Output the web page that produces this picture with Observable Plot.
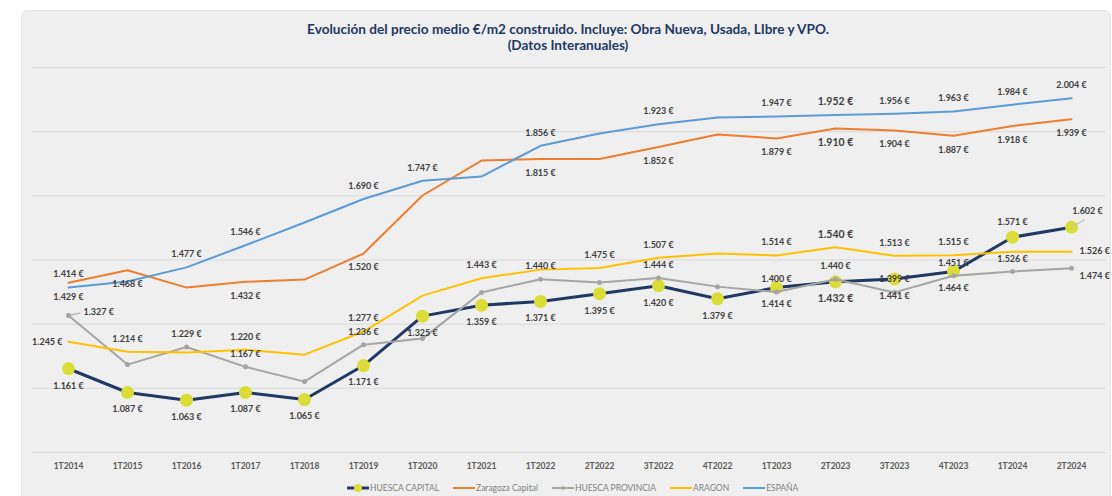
<!DOCTYPE html>
<html>
<head>
<meta charset="utf-8">
<script src="https://cdn.jsdelivr.net/npm/d3@7"></script>
<script src="https://cdn.jsdelivr.net/npm/@observablehq/plot@0.6"></script>
<style>
  html, body { margin: 0; padding: 0; background: #ffffff; }
  body { width: 1112px; height: 496px; overflow: hidden; position: relative; font-family: Lato, "Open Sans", sans-serif; }
  #panel { position: absolute; left: 21px; top: 10px; width: 1088px; height: 500px; background: #efefef; border: 1px solid #e4e4e4; border-radius: 7px; }
  #title { position: absolute; left: 0; top: 21px; width: 1136px; text-align: center; color: #1f3864; font-weight: bold; font-size: 13.6px; line-height: 16px; }
  #chart { position: absolute; left: 0; top: 60px; }
  #legend { position: absolute; left: 347px; top: 482px; height: 12px; display: flex; align-items: center; font-size: 8.5px; color: #7f7f7f; white-space: nowrap; }
  #legend .item { display: flex; align-items: center; margin-right: 14px; }
  #legend svg { display: block; margin-right: 1px; }
</style>
</head>
<body>
<div id="panel"></div>
<div id="title">Evolución del precio medio €/m2 construido. Incluye: Obra Nueva, Usada, LIbre y VPO.<br>(Datos Interanuales)</div>
<div id="chart"></div>
<div id="legend"></div>
<script>
// ---- data ----
const periods = ["1T2014","1T2015","1T2016","1T2017","1T2018","1T2019","1T2020","1T2021","1T2022","2T2022","3T2022","4T2022","1T2023","2T2023","3T2023","4T2023","1T2024","2T2024"];
const seriesNames = ["HUESCA CAPITAL","Zaragoza Capital","HUESCA PROVINCIA","ARAGON","ESPAÑA"];
const huescaCapital   = [1161,1087,1063,1087,1065,1171,1325,1359,1371,1395,1420,1379,1414,1432,1441,1464,1571,1602];
const zaragozaCapital = [1429,1468,1414,1432,1439,1520,1701,1810,1815,1815,1852,1891,1879,1910,1904,1887,1918,1939];
const huescaProvincia = [1327,1174,1229,1167,1121,1236,1255,1399,1440,1430,1444,1417,1400,1440,1399,1451,1464,1474];
const aragon          = [1245,1214,1212,1220,1205,1277,1389,1443,1470,1475,1507,1520,1514,1540,1513,1515,1526,1526];
const espana          = [1414,1433,1477,1546,1617,1690,1747,1760,1856,1894,1923,1944,1947,1952,1956,1963,1984,2004];
const yTicks = [900,1100,1300,1500,1700,1900,2100];
// periods whose value label is not shown in the original
const hiddenLabels = {
  "HUESCA CAPITAL": [],
  "Zaragoza Capital": ["1T2016","1T2018","1T2020","1T2021","2T2022","4T2022"],
  "HUESCA PROVINCIA": ["1T2015","1T2018","1T2020","1T2021","2T2022","4T2022","1T2024"],
  "ARAGON": ["1T2016","1T2018","1T2020","1T2022","4T2022"],
  "ESPAÑA": ["1T2015","1T2018","1T2021","2T2022","4T2022"]
};

// ---- styling / layout ----
const colors = {"HUESCA CAPITAL":"#1f3864","Zaragoza Capital":"#ed7d31","HUESCA PROVINCIA":"#a5a5a5","ARAGON":"#ffc000","ESPAÑA":"#5b9bd5"};
const widths = {"HUESCA CAPITAL":3,"Zaragoza Capital":2,"HUESCA PROVINCIA":2,"ARAGON":2,"ESPAÑA":2};
const defaultPlacement = {"HUESCA CAPITAL":{dx:0,dy:17},"Zaragoza Capital":{dx:0,dy:14},"HUESCA PROVINCIA":{dx:0,dy:-13},"ARAGON":{dx:0,dy:-13},"ESPAÑA":{dx:0,dy:-13}};
const specialPlacement = {
  "HUESCA CAPITAL@1T2024": {dx:0, dy:-15},
  "HUESCA CAPITAL@2T2024": {dx:16, dy:-16},
  "ARAGON@1T2014": {dx:-6, dy:0, anchor:"end"},
  "ARAGON@1T2024": {dx:0, dy:7},
  "ARAGON@2T2024": {dx:8, dy:-1, anchor:"start"},
  "HUESCA PROVINCIA@1T2014": {dx:15, dy:-3, anchor:"start"},
  "HUESCA PROVINCIA@2T2024": {dx:8, dy:8, anchor:"start"}
};
const bigPeriod = "2T2023";

const valuesBySeries = {"HUESCA CAPITAL":huescaCapital,"Zaragoza Capital":zaragozaCapital,"HUESCA PROVINCIA":huescaProvincia,"ARAGON":aragon,"ESPAÑA":espana};
const rows = [];
seriesNames.forEach(s => valuesBySeries[s].forEach((v, i) => rows.push({series: s, period: periods[i], value: v})));

const locale = d3.formatLocale({decimal: ",", thousands: ".", grouping: [3], currency: ["", " €"]});
const fmt = v => locale.format(",d")(v) + " €";

// group labels by offset
const labelGroups = new Map();
rows.forEach(r => {
  if (hiddenLabels[r.series].includes(r.period)) return;
  const sp = specialPlacement[r.series + "@" + r.period] || defaultPlacement[r.series];
  const big = r.period === bigPeriod && r.series !== "HUESCA PROVINCIA";
  const key = [sp.dx, sp.dy, sp.anchor || "middle", big].join("|");
  if (!labelGroups.has(key)) labelGroups.set(key, {sp, big, data: []});
  labelGroups.get(key).data.push(r);
});

const lineStroke = {draw(ctx, l) { ctx.moveTo(0, 0); ctx.lineTo(0, -l); }};

const marks = [
  Plot.ruleY(yTicks, {stroke: "#d9d9d9", strokeWidth: 1}),
  Plot.axisX({tickSize: 0, tickPadding: 10, fontSize: 8.5, fontWeight: "bold", fill: "#595959", label: null}),
];
seriesNames.forEach(s => {
  const d = rows.filter(r => r.series === s);
  marks.push(Plot.line(d, {x: "period", y: "value", stroke: colors[s], strokeWidth: widths[s], curve: "linear"}));
  if (s === "HUESCA CAPITAL") {
    marks.push(Plot.dot(d, {x: "period", y: "value", r: 6.5, fill: "#dcdc38", stroke: "none"}));
  }
  if (s === "HUESCA PROVINCIA") {
    marks.push(Plot.dot(d, {x: "period", y: "value", r: 2.5, fill: "#a5a5a5", stroke: "none"}));
  }
});
// leader lines
marks.push(Plot.vector(rows.filter(r => r.series === "HUESCA PROVINCIA" && r.period === "1T2014"),
  {x: "period", y: "value", length: 12, rotate: 78, anchor: "start", shape: lineStroke, stroke: "#a5a5a5", strokeWidth: 1}));
marks.push(Plot.vector(rows.filter(r => r.series === "HUESCA CAPITAL" && r.period === "2T2024"),
  {x: "period", y: "value", length: 15, rotate: 60, anchor: "start", shape: lineStroke, stroke: "#bfbfbf", strokeWidth: 1}));
for (const g of labelGroups.values()) {
  marks.push(Plot.text(g.data, {
    x: "period", y: "value", text: d => fmt(d.value),
    dx: g.sp.dx, dy: g.sp.dy, textAnchor: g.sp.anchor || "middle",
    fontSize: g.big ? 10.5 : 9, fontWeight: "bold", fill: "#404040"
  }));
}

const chart = Plot.plot({
  width: 1112,
  height: 420,
  marginTop: 7,
  marginBottom: 28,
  marginLeft: 32,
  marginRight: 6,
  style: {background: "transparent", fontFamily: "Lato, 'Open Sans', sans-serif", overflow: "visible"},
  x: {type: "point", domain: periods, padding: 0.5, axis: null},
  y: {domain: [900, 2100], axis: null},
  marks
});
document.getElementById("chart").append(chart);

// legend
const legend = document.getElementById("legend");
seriesNames.forEach(s => {
  const item = document.createElement("div");
  item.className = "item";
  let sym = `<svg width="22" height="10"><line x1="0" y1="5" x2="22" y2="5" stroke="${colors[s]}" stroke-width="${s === "HUESCA CAPITAL" ? 3 : 2}"/>`;
  if (s === "HUESCA CAPITAL") sym += `<circle cx="11" cy="5" r="4" fill="#dcdc38"/>`;
  if (s === "HUESCA PROVINCIA") sym += `<circle cx="11" cy="5" r="2" fill="#a5a5a5"/>`;
  sym += `</svg>`;
  item.innerHTML = sym + `<span>${s}</span>`;
  legend.append(item);
});
</script>
</body>
</html>
